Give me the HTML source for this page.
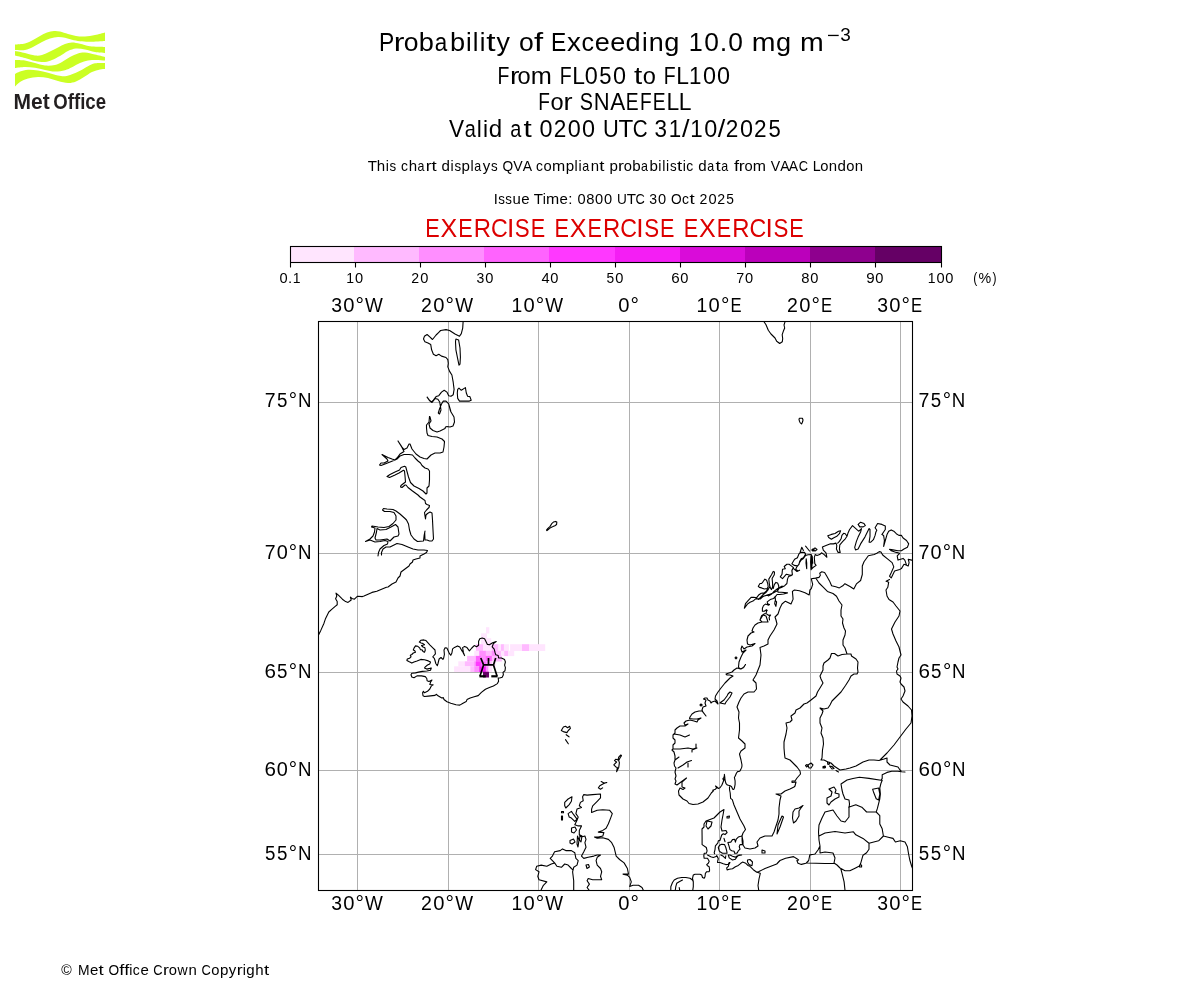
<!DOCTYPE html>
<html><head><meta charset="utf-8"><style>
html,body{margin:0;padding:0;background:#fff;width:1200px;height:1000px;overflow:hidden}
svg{display:block}
text{font-family:"Liberation Sans",sans-serif;}
svg{will-change:transform}
</style></head><body>
<svg width="1200" height="1000" viewBox="0 0 1200 1000">
<defs><clipPath id="mapclip"><rect x="318.5" y="321.5" width="594" height="569"/></clipPath></defs>
<rect width="1200" height="1000" fill="#fff"/>
<text transform="translate(378.93,50.75) scale(0.862,1)" font-size="26.50" fill="#000">P</text><text transform="translate(393.76,50.75) scale(1.238,1)" font-size="25.90" fill="#000">r</text><text transform="translate(403.72,50.75) scale(1.026,1)" font-size="25.90" fill="#000">o</text><text transform="translate(418.72,50.75) scale(1.051,1)" font-size="25.90" fill="#000">b</text><text transform="translate(434.64,50.75) scale(0.866,1)" font-size="25.90" fill="#000">a</text><text transform="translate(449.91,50.75) scale(1.051,1)" font-size="25.90" fill="#000">b</text><text transform="translate(465.93,50.75) scale(0.987,1)" font-size="25.90" fill="#000">i</text><text transform="translate(472.85,50.75) scale(0.987,1)" font-size="25.90" fill="#000">l</text><text transform="translate(479.82,50.75) scale(0.987,1)" font-size="25.90" fill="#000">i</text><text transform="translate(486.25,50.75) scale(1.293,1)" font-size="25.90" fill="#000">t</text><text transform="translate(496.58,50.75) scale(1.037,1)" font-size="25.90" fill="#000">y</text><text transform="translate(518.91,50.75) scale(1.026,1)" font-size="25.90" fill="#000">o</text><text transform="translate(534.04,50.75) scale(1.270,1)" font-size="25.90" fill="#000">f</text><text transform="translate(550.94,50.75) scale(0.862,1)" font-size="26.50" fill="#000">E</text><text transform="translate(566.88,50.75) scale(1.072,1)" font-size="25.90" fill="#000">x</text><text transform="translate(581.61,50.75) scale(0.967,1)" font-size="25.90" fill="#000">c</text><text transform="translate(594.83,50.75) scale(1.043,1)" font-size="25.90" fill="#000">e</text><text transform="translate(610.21,50.75) scale(1.043,1)" font-size="25.90" fill="#000">e</text><text transform="translate(625.59,50.75) scale(1.049,1)" font-size="25.90" fill="#000">d</text><text transform="translate(641.88,50.75) scale(0.987,1)" font-size="25.90" fill="#000">i</text><text transform="translate(648.64,50.75) scale(1.040,1)" font-size="25.90" fill="#000">n</text><text transform="translate(664.25,50.75) scale(1.049,1)" font-size="25.90" fill="#000">g</text><text transform="translate(688.64,50.75) scale(0.950,1)" font-size="26.50" fill="#000">1</text><text transform="translate(704.33,50.75) scale(0.995,1)" font-size="26.50" fill="#000">0</text><text transform="translate(719.83,50.75) scale(1.022,1)" font-size="26.50" fill="#000">.</text><text transform="translate(728.18,50.75) scale(0.995,1)" font-size="26.50" fill="#000">0</text><text transform="translate(751.81,50.75) scale(1.100,1)" font-size="25.90" fill="#000">m</text><text transform="translate(776.03,50.75) scale(1.049,1)" font-size="25.90" fill="#000">g</text><text transform="translate(799.98,50.75) scale(1.100,1)" font-size="25.90" fill="#000">m</text>
<rect x="828" y="34.8" width="10.7" height="1.3" fill="#000"/>
<text transform="translate(840.28,40.80) scale(1.0598,1)" font-size="17.88" fill="#000">3</text>
<text transform="translate(497.52,83.85) scale(0.826,1)" font-size="23.55" fill="#000">F</text><text transform="translate(509.92,83.85) scale(1.238,1)" font-size="23.02" fill="#000">r</text><text transform="translate(517.55,83.85) scale(1.026,1)" font-size="23.02" fill="#000">o</text><text transform="translate(530.76,83.85) scale(1.100,1)" font-size="23.02" fill="#000">m</text><text transform="translate(559.63,83.85) scale(0.826,1)" font-size="23.55" fill="#000">F</text><text transform="translate(572.22,83.85) scale(0.971,1)" font-size="23.55" fill="#000">L</text><text transform="translate(584.83,83.85) scale(0.995,1)" font-size="23.55" fill="#000">0</text><text transform="translate(599.26,83.85) scale(0.937,1)" font-size="23.55" fill="#000">5</text><text transform="translate(613.10,83.85) scale(0.995,1)" font-size="23.55" fill="#000">0</text><text transform="translate(633.91,83.85) scale(1.290,1)" font-size="23.02" fill="#000">t</text><text transform="translate(642.71,83.85) scale(1.026,1)" font-size="23.02" fill="#000">o</text><text transform="translate(663.63,83.85) scale(0.826,1)" font-size="23.55" fill="#000">F</text><text transform="translate(676.22,83.85) scale(0.971,1)" font-size="23.55" fill="#000">L</text><text transform="translate(689.02,83.85) scale(0.950,1)" font-size="23.55" fill="#000">1</text><text transform="translate(702.97,83.85) scale(0.995,1)" font-size="23.55" fill="#000">0</text><text transform="translate(717.11,83.85) scale(0.995,1)" font-size="23.55" fill="#000">0</text>
<text transform="translate(538.14,109.70) scale(0.810,1)" font-size="23.55" fill="#000">F</text><text transform="translate(550.53,109.70) scale(1.026,1)" font-size="23.02" fill="#000">o</text><text transform="translate(563.47,109.70) scale(1.183,1)" font-size="23.02" fill="#000">r</text><text transform="translate(579.86,109.70) scale(0.842,1)" font-size="23.55" fill="#000">S</text><text transform="translate(593.79,109.70) scale(0.932,1)" font-size="23.55" fill="#000">N</text><text transform="translate(610.14,109.70) scale(0.952,1)" font-size="23.55" fill="#000">A</text><text transform="translate(625.83,109.70) scale(0.817,1)" font-size="23.55" fill="#000">E</text><text transform="translate(639.88,109.70) scale(0.810,1)" font-size="23.55" fill="#000">F</text><text transform="translate(652.65,109.70) scale(0.817,1)" font-size="23.55" fill="#000">E</text><text transform="translate(666.39,109.70) scale(0.971,1)" font-size="23.55" fill="#000">L</text><text transform="translate(678.77,109.70) scale(0.971,1)" font-size="23.55" fill="#000">L</text>
<text transform="translate(449.11,136.70) scale(0.958,1)" font-size="23.55" fill="#000">V</text><text transform="translate(464.74,136.70) scale(0.866,1)" font-size="23.02" fill="#000">a</text><text transform="translate(476.70,136.70) scale(0.987,1)" font-size="23.02" fill="#000">l</text><text transform="translate(482.90,136.70) scale(0.987,1)" font-size="23.02" fill="#000">i</text><text transform="translate(488.69,136.70) scale(1.049,1)" font-size="23.02" fill="#000">d</text><text transform="translate(510.15,136.70) scale(0.866,1)" font-size="23.02" fill="#000">a</text><text transform="translate(523.40,136.70) scale(1.293,1)" font-size="23.02" fill="#000">t</text><text transform="translate(539.57,136.70) scale(0.995,1)" font-size="23.55" fill="#000">0</text><text transform="translate(553.67,136.70) scale(0.960,1)" font-size="23.55" fill="#000">2</text><text transform="translate(567.85,136.70) scale(0.995,1)" font-size="23.55" fill="#000">0</text><text transform="translate(581.98,136.70) scale(0.995,1)" font-size="23.55" fill="#000">0</text><text transform="translate(602.88,136.70) scale(0.928,1)" font-size="23.55" fill="#000">U</text><text transform="translate(618.38,136.70) scale(1.028,1)" font-size="23.55" fill="#000">T</text><text transform="translate(632.70,136.70) scale(0.875,1)" font-size="23.55" fill="#000">C</text><text transform="translate(654.60,136.70) scale(0.955,1)" font-size="23.55" fill="#000">3</text><text transform="translate(668.63,136.70) scale(0.950,1)" font-size="23.55" fill="#000">1</text><text transform="translate(682.04,136.70) scale(1.144,1)" font-size="23.55" fill="#000">/</text><text transform="translate(690.25,136.70) scale(0.950,1)" font-size="23.55" fill="#000">1</text><text transform="translate(704.20,136.70) scale(0.995,1)" font-size="23.55" fill="#000">0</text><text transform="translate(717.80,136.70) scale(1.144,1)" font-size="23.55" fill="#000">/</text><text transform="translate(725.78,136.70) scale(0.960,1)" font-size="23.55" fill="#000">2</text><text transform="translate(739.96,136.70) scale(0.995,1)" font-size="23.55" fill="#000">0</text><text transform="translate(754.05,136.70) scale(0.960,1)" font-size="23.55" fill="#000">2</text><text transform="translate(768.53,136.70) scale(0.937,1)" font-size="23.55" fill="#000">5</text>
<text transform="translate(367.67,171.20) scale(1.028,1)" font-size="14.72" fill="#000">T</text><text transform="translate(376.69,171.20) scale(1.047,1)" font-size="14.39" fill="#000">h</text><text transform="translate(385.66,171.20) scale(0.987,1)" font-size="14.39" fill="#000">i</text><text transform="translate(389.54,171.20) scale(0.925,1)" font-size="14.39" fill="#000">s</text><text transform="translate(400.98,171.20) scale(0.967,1)" font-size="14.39" fill="#000">c</text><text transform="translate(408.65,171.20) scale(1.047,1)" font-size="14.39" fill="#000">h</text><text transform="translate(417.55,171.20) scale(0.866,1)" font-size="14.39" fill="#000">a</text><text transform="translate(425.83,171.20) scale(1.238,1)" font-size="14.39" fill="#000">r</text><text transform="translate(431.54,171.20) scale(1.293,1)" font-size="14.39" fill="#000">t</text><text transform="translate(441.45,171.20) scale(1.049,1)" font-size="14.39" fill="#000">d</text><text transform="translate(450.51,171.20) scale(0.987,1)" font-size="14.39" fill="#000">i</text><text transform="translate(454.39,171.20) scale(0.925,1)" font-size="14.39" fill="#000">s</text><text transform="translate(461.52,171.20) scale(1.051,1)" font-size="14.39" fill="#000">p</text><text transform="translate(470.41,171.20) scale(0.987,1)" font-size="14.39" fill="#000">l</text><text transform="translate(474.22,171.20) scale(0.866,1)" font-size="14.39" fill="#000">a</text><text transform="translate(482.80,171.20) scale(1.037,1)" font-size="14.39" fill="#000">y</text><text transform="translate(491.03,171.20) scale(0.925,1)" font-size="14.39" fill="#000">s</text><text transform="translate(502.43,171.20) scale(0.932,1)" font-size="14.72" fill="#000">Q</text><text transform="translate(513.27,171.20) scale(0.958,1)" font-size="14.72" fill="#000">V</text><text transform="translate(522.80,171.20) scale(0.952,1)" font-size="14.72" fill="#000">A</text><text transform="translate(535.94,171.20) scale(0.967,1)" font-size="14.39" fill="#000">c</text><text transform="translate(543.54,171.20) scale(1.026,1)" font-size="14.39" fill="#000">o</text><text transform="translate(552.10,171.20) scale(1.100,1)" font-size="14.39" fill="#000">m</text><text transform="translate(565.71,171.20) scale(1.051,1)" font-size="14.39" fill="#000">p</text><text transform="translate(574.60,171.20) scale(0.987,1)" font-size="14.39" fill="#000">l</text><text transform="translate(578.47,171.20) scale(0.987,1)" font-size="14.39" fill="#000">i</text><text transform="translate(582.27,171.20) scale(0.866,1)" font-size="14.39" fill="#000">a</text><text transform="translate(590.73,171.20) scale(1.040,1)" font-size="14.39" fill="#000">n</text><text transform="translate(599.36,171.20) scale(1.293,1)" font-size="14.39" fill="#000">t</text><text transform="translate(609.42,171.20) scale(1.051,1)" font-size="14.39" fill="#000">p</text><text transform="translate(618.03,171.20) scale(1.238,1)" font-size="14.39" fill="#000">r</text><text transform="translate(623.81,171.20) scale(1.026,1)" font-size="14.39" fill="#000">o</text><text transform="translate(632.14,171.20) scale(1.051,1)" font-size="14.39" fill="#000">b</text><text transform="translate(640.98,171.20) scale(0.866,1)" font-size="14.39" fill="#000">a</text><text transform="translate(649.47,171.20) scale(1.051,1)" font-size="14.39" fill="#000">b</text><text transform="translate(658.37,171.20) scale(0.987,1)" font-size="14.39" fill="#000">i</text><text transform="translate(662.22,171.20) scale(0.987,1)" font-size="14.39" fill="#000">l</text><text transform="translate(666.09,171.20) scale(0.987,1)" font-size="14.39" fill="#000">i</text><text transform="translate(669.97,171.20) scale(0.925,1)" font-size="14.39" fill="#000">s</text><text transform="translate(676.90,171.20) scale(1.293,1)" font-size="14.39" fill="#000">t</text><text transform="translate(682.63,171.20) scale(0.987,1)" font-size="14.39" fill="#000">i</text><text transform="translate(686.30,171.20) scale(0.967,1)" font-size="14.39" fill="#000">c</text><text transform="translate(698.30,171.20) scale(1.049,1)" font-size="14.39" fill="#000">d</text><text transform="translate(707.30,171.20) scale(0.866,1)" font-size="14.39" fill="#000">a</text><text transform="translate(715.58,171.20) scale(1.293,1)" font-size="14.39" fill="#000">t</text><text transform="translate(721.26,171.20) scale(0.866,1)" font-size="14.39" fill="#000">a</text><text transform="translate(733.93,171.20) scale(1.270,1)" font-size="14.39" fill="#000">f</text><text transform="translate(738.84,171.20) scale(1.238,1)" font-size="14.39" fill="#000">r</text><text transform="translate(744.62,171.20) scale(1.026,1)" font-size="14.39" fill="#000">o</text><text transform="translate(752.87,171.20) scale(1.100,1)" font-size="14.39" fill="#000">m</text><text transform="translate(770.66,171.20) scale(0.958,1)" font-size="14.72" fill="#000">V</text><text transform="translate(780.19,171.20) scale(0.952,1)" font-size="14.72" fill="#000">A</text><text transform="translate(788.80,171.20) scale(0.952,1)" font-size="14.72" fill="#000">A</text><text transform="translate(798.75,171.20) scale(0.875,1)" font-size="14.72" fill="#000">C</text><text transform="translate(812.68,171.20) scale(0.971,1)" font-size="14.72" fill="#000">L</text><text transform="translate(820.37,171.20) scale(1.026,1)" font-size="14.39" fill="#000">o</text><text transform="translate(828.74,171.20) scale(1.040,1)" font-size="14.39" fill="#000">n</text><text transform="translate(837.41,171.20) scale(1.049,1)" font-size="14.39" fill="#000">d</text><text transform="translate(846.24,171.20) scale(1.026,1)" font-size="14.39" fill="#000">o</text><text transform="translate(854.86,171.20) scale(1.040,1)" font-size="14.39" fill="#000">n</text>
<text transform="translate(493.65,204.20) scale(0.994,1)" font-size="14.72" fill="#000">I</text><text transform="translate(498.13,204.20) scale(0.925,1)" font-size="14.39" fill="#000">s</text><text transform="translate(505.36,204.20) scale(0.925,1)" font-size="14.39" fill="#000">s</text><text transform="translate(512.42,204.20) scale(1.040,1)" font-size="14.39" fill="#000">u</text><text transform="translate(521.15,204.20) scale(1.043,1)" font-size="14.39" fill="#000">e</text><text transform="translate(533.64,204.20) scale(1.028,1)" font-size="14.72" fill="#000">T</text><text transform="translate(542.83,204.20) scale(0.987,1)" font-size="14.39" fill="#000">i</text><text transform="translate(546.09,204.20) scale(1.100,1)" font-size="14.39" fill="#000">m</text><text transform="translate(559.55,204.20) scale(1.043,1)" font-size="14.39" fill="#000">e</text><text transform="translate(568.22,204.20) scale(1.022,1)" font-size="14.72" fill="#000">:</text><text transform="translate(577.39,204.20) scale(0.995,1)" font-size="14.72" fill="#000">0</text><text transform="translate(586.19,204.20) scale(1.006,1)" font-size="14.72" fill="#000">8</text><text transform="translate(595.07,204.20) scale(0.995,1)" font-size="14.72" fill="#000">0</text><text transform="translate(603.90,204.20) scale(0.995,1)" font-size="14.72" fill="#000">0</text><text transform="translate(616.97,204.20) scale(0.928,1)" font-size="14.72" fill="#000">U</text><text transform="translate(626.66,204.20) scale(1.028,1)" font-size="14.72" fill="#000">T</text><text transform="translate(635.61,204.20) scale(0.875,1)" font-size="14.72" fill="#000">C</text><text transform="translate(649.30,204.20) scale(0.955,1)" font-size="14.72" fill="#000">3</text><text transform="translate(657.95,204.20) scale(0.995,1)" font-size="14.72" fill="#000">0</text><text transform="translate(671.00,204.20) scale(0.932,1)" font-size="14.72" fill="#000">O</text><text transform="translate(681.98,204.20) scale(0.967,1)" font-size="14.39" fill="#000">c</text><text transform="translate(689.52,204.20) scale(1.293,1)" font-size="14.39" fill="#000">t</text><text transform="translate(699.60,204.20) scale(0.960,1)" font-size="14.72" fill="#000">2</text><text transform="translate(708.47,204.20) scale(0.995,1)" font-size="14.72" fill="#000">0</text><text transform="translate(717.28,204.20) scale(0.960,1)" font-size="14.72" fill="#000">2</text><text transform="translate(726.33,204.20) scale(0.937,1)" font-size="14.72" fill="#000">5</text>
<text transform="translate(425.23,237.00) scale(0.817,1)" font-size="26.50" fill="#dc0000">E</text><text transform="translate(440.52,237.00) scale(0.945,1)" font-size="26.50" fill="#dc0000">X</text><text transform="translate(458.15,237.00) scale(0.817,1)" font-size="26.50" fill="#dc0000">E</text><text transform="translate(473.76,237.00) scale(0.902,1)" font-size="26.50" fill="#dc0000">R</text><text transform="translate(490.88,237.00) scale(0.875,1)" font-size="26.50" fill="#dc0000">C</text><text transform="translate(506.88,237.00) scale(0.994,1)" font-size="26.50" fill="#dc0000">I</text><text transform="translate(514.84,237.00) scale(0.842,1)" font-size="26.50" fill="#dc0000">S</text><text transform="translate(530.77,237.00) scale(0.817,1)" font-size="26.50" fill="#dc0000">E</text><text transform="translate(554.51,237.00) scale(0.817,1)" font-size="26.50" fill="#dc0000">E</text><text transform="translate(569.81,237.00) scale(0.945,1)" font-size="26.50" fill="#dc0000">X</text><text transform="translate(587.43,237.00) scale(0.817,1)" font-size="26.50" fill="#dc0000">E</text><text transform="translate(603.04,237.00) scale(0.902,1)" font-size="26.50" fill="#dc0000">R</text><text transform="translate(620.17,237.00) scale(0.875,1)" font-size="26.50" fill="#dc0000">C</text><text transform="translate(636.16,237.00) scale(0.994,1)" font-size="26.50" fill="#dc0000">I</text><text transform="translate(644.13,237.00) scale(0.842,1)" font-size="26.50" fill="#dc0000">S</text><text transform="translate(660.05,237.00) scale(0.817,1)" font-size="26.50" fill="#dc0000">E</text><text transform="translate(683.80,237.00) scale(0.817,1)" font-size="26.50" fill="#dc0000">E</text><text transform="translate(699.09,237.00) scale(0.945,1)" font-size="26.50" fill="#dc0000">X</text><text transform="translate(716.72,237.00) scale(0.817,1)" font-size="26.50" fill="#dc0000">E</text><text transform="translate(732.33,237.00) scale(0.902,1)" font-size="26.50" fill="#dc0000">R</text><text transform="translate(749.45,237.00) scale(0.875,1)" font-size="26.50" fill="#dc0000">C</text><text transform="translate(765.45,237.00) scale(0.994,1)" font-size="26.50" fill="#dc0000">I</text><text transform="translate(773.42,237.00) scale(0.842,1)" font-size="26.50" fill="#dc0000">S</text><text transform="translate(789.34,237.00) scale(0.817,1)" font-size="26.50" fill="#dc0000">E</text>
<text transform="translate(61.29,975.10) scale(0.966,1)" font-size="14.72" fill="#000">©</text><text transform="translate(78.11,975.10) scale(0.942,1)" font-size="14.72" fill="#000">M</text><text transform="translate(90.01,975.10) scale(1.043,1)" font-size="14.39" fill="#000">e</text><text transform="translate(98.50,975.10) scale(1.293,1)" font-size="14.39" fill="#000">t</text><text transform="translate(108.41,975.10) scale(0.932,1)" font-size="14.72" fill="#000">O</text><text transform="translate(119.26,975.10) scale(1.270,1)" font-size="14.39" fill="#000">f</text><text transform="translate(124.15,975.10) scale(1.270,1)" font-size="14.39" fill="#000">f</text><text transform="translate(129.15,975.10) scale(0.987,1)" font-size="14.39" fill="#000">i</text><text transform="translate(132.82,975.10) scale(0.967,1)" font-size="14.39" fill="#000">c</text><text transform="translate(140.41,975.10) scale(1.043,1)" font-size="14.39" fill="#000">e</text><text transform="translate(153.37,975.10) scale(0.875,1)" font-size="14.72" fill="#000">C</text><text transform="translate(163.01,975.10) scale(1.238,1)" font-size="14.39" fill="#000">r</text><text transform="translate(168.79,975.10) scale(1.026,1)" font-size="14.39" fill="#000">o</text><text transform="translate(177.43,975.10) scale(0.975,1)" font-size="14.39" fill="#000">w</text><text transform="translate(188.46,975.10) scale(1.040,1)" font-size="14.39" fill="#000">n</text><text transform="translate(201.55,975.10) scale(0.875,1)" font-size="14.72" fill="#000">C</text><text transform="translate(211.26,975.10) scale(1.026,1)" font-size="14.39" fill="#000">o</text><text transform="translate(219.90,975.10) scale(1.051,1)" font-size="14.39" fill="#000">p</text><text transform="translate(228.81,975.10) scale(1.037,1)" font-size="14.39" fill="#000">y</text><text transform="translate(236.73,975.10) scale(1.238,1)" font-size="14.39" fill="#000">r</text><text transform="translate(242.73,975.10) scale(0.987,1)" font-size="14.39" fill="#000">i</text><text transform="translate(246.35,975.10) scale(1.049,1)" font-size="14.39" fill="#000">g</text><text transform="translate(255.25,975.10) scale(1.047,1)" font-size="14.39" fill="#000">h</text><text transform="translate(263.93,975.10) scale(1.293,1)" font-size="14.39" fill="#000">t</text>
<rect x="290.50" y="246.5" width="63.80" height="16" fill="#ffe5fe"/>
<rect x="354.00" y="246.5" width="65.30" height="16" fill="#ffbaff"/>
<rect x="419.00" y="246.5" width="65.30" height="16" fill="#ff8eff"/>
<rect x="484.00" y="246.5" width="65.30" height="16" fill="#ff63fe"/>
<rect x="549.00" y="246.5" width="66.30" height="16" fill="#ff38ff"/>
<rect x="615.00" y="246.5" width="65.30" height="16" fill="#f41ef4"/>
<rect x="680.00" y="246.5" width="65.30" height="16" fill="#d90cd9"/>
<rect x="745.00" y="246.5" width="65.30" height="16" fill="#bb00bb"/>
<rect x="810.00" y="246.5" width="65.30" height="16" fill="#8e008e"/>
<rect x="875.00" y="246.5" width="66.80" height="16" fill="#650065"/>
<rect x="290.5" y="246.5" width="651" height="16" fill="none" stroke="#000" stroke-width="1.1"/>
<line x1="290.5" y1="262.5" x2="290.5" y2="267.5" stroke="#000" stroke-width="1.1"/>
<text transform="translate(279.38,282.90) scale(0.995,1)" font-size="14.72" fill="#000">0</text><text transform="translate(287.99,282.90) scale(1.022,1)" font-size="14.72" fill="#000">.</text><text transform="translate(292.75,282.90) scale(0.950,1)" font-size="14.72" fill="#000">1</text>
<line x1="355.5" y1="262.5" x2="355.5" y2="267.5" stroke="#000" stroke-width="1.1"/>
<text transform="translate(346.22,282.90) scale(0.950,1)" font-size="14.72" fill="#000">1</text><text transform="translate(354.94,282.90) scale(0.995,1)" font-size="14.72" fill="#000">0</text>
<line x1="420.5" y1="262.5" x2="420.5" y2="267.5" stroke="#000" stroke-width="1.1"/>
<text transform="translate(411.32,282.90) scale(0.960,1)" font-size="14.72" fill="#000">2</text><text transform="translate(420.19,282.90) scale(0.995,1)" font-size="14.72" fill="#000">0</text>
<line x1="485.5" y1="262.5" x2="485.5" y2="267.5" stroke="#000" stroke-width="1.1"/>
<text transform="translate(476.52,282.90) scale(0.955,1)" font-size="14.72" fill="#000">3</text><text transform="translate(485.17,282.90) scale(0.995,1)" font-size="14.72" fill="#000">0</text>
<line x1="550.5" y1="262.5" x2="550.5" y2="267.5" stroke="#000" stroke-width="1.1"/>
<text transform="translate(541.54,282.90) scale(0.996,1)" font-size="14.72" fill="#000">4</text><text transform="translate(550.36,282.90) scale(0.995,1)" font-size="14.72" fill="#000">0</text>
<line x1="615.5" y1="262.5" x2="615.5" y2="267.5" stroke="#000" stroke-width="1.1"/>
<text transform="translate(606.51,282.90) scale(0.937,1)" font-size="14.72" fill="#000">5</text><text transform="translate(615.16,282.90) scale(0.995,1)" font-size="14.72" fill="#000">0</text>
<line x1="680.5" y1="262.5" x2="680.5" y2="267.5" stroke="#000" stroke-width="1.1"/>
<text transform="translate(671.25,282.90) scale(1.029,1)" font-size="14.72" fill="#000">6</text><text transform="translate(680.21,282.90) scale(0.995,1)" font-size="14.72" fill="#000">0</text>
<line x1="745.5" y1="262.5" x2="745.5" y2="267.5" stroke="#000" stroke-width="1.1"/>
<text transform="translate(736.36,282.90) scale(0.972,1)" font-size="14.72" fill="#000">7</text><text transform="translate(745.12,282.90) scale(0.995,1)" font-size="14.72" fill="#000">0</text>
<line x1="810.5" y1="262.5" x2="810.5" y2="267.5" stroke="#000" stroke-width="1.1"/>
<text transform="translate(801.35,282.90) scale(1.006,1)" font-size="14.72" fill="#000">8</text><text transform="translate(810.23,282.90) scale(0.995,1)" font-size="14.72" fill="#000">0</text>
<line x1="875.5" y1="262.5" x2="875.5" y2="267.5" stroke="#000" stroke-width="1.1"/>
<text transform="translate(866.26,282.90) scale(1.027,1)" font-size="14.72" fill="#000">9</text><text transform="translate(875.26,282.90) scale(0.995,1)" font-size="14.72" fill="#000">0</text>
<line x1="941.5" y1="262.5" x2="941.5" y2="267.5" stroke="#000" stroke-width="1.1"/>
<text transform="translate(927.80,282.90) scale(0.950,1)" font-size="14.72" fill="#000">1</text><text transform="translate(936.52,282.90) scale(0.995,1)" font-size="14.72" fill="#000">0</text><text transform="translate(945.36,282.90) scale(0.995,1)" font-size="14.72" fill="#000">0</text>
<text transform="translate(973.20,282.90) scale(0.823,1)" font-size="14.72" fill="#000">(</text><text transform="translate(978.50,282.90) scale(0.969,1)" font-size="14.72" fill="#000">%</text><text transform="translate(992.44,282.90) scale(0.823,1)" font-size="14.72" fill="#000">)</text>
<rect x="357" y="321" width="1" height="569" fill="#b0b0b0"/>
<rect x="448" y="321" width="1" height="569" fill="#b0b0b0"/>
<rect x="538" y="321" width="1" height="569" fill="#b0b0b0"/>
<rect x="629" y="321" width="1" height="569" fill="#b0b0b0"/>
<rect x="719" y="321" width="1" height="569" fill="#b0b0b0"/>
<rect x="810" y="321" width="1" height="569" fill="#b0b0b0"/>
<rect x="900" y="321" width="1" height="569" fill="#b0b0b0"/>
<rect x="318" y="402" width="594" height="1" fill="#b0b0b0"/>
<rect x="318" y="553" width="594" height="1" fill="#b0b0b0"/>
<rect x="318" y="672" width="594" height="1" fill="#b0b0b0"/>
<rect x="318" y="770" width="594" height="1" fill="#b0b0b0"/>
<rect x="318" y="854" width="594" height="1" fill="#b0b0b0"/>
<g clip-path="url(#mapclip)"><rect x="486.0" y="627.2" width="3.3" height="6.3" fill="#ffe5fe"/><rect x="481.1" y="633.3" width="5.9" height="5.1" fill="#ffe5fe"/><rect x="481.0" y="638.2" width="10.2" height="6.2" fill="#ffe5fe"/><rect x="475.9" y="644.2" width="7.3" height="6.8" fill="#ffbaff"/><rect x="483.0" y="644.2" width="9.0" height="6.8" fill="#ffe5fe"/><rect x="491.8" y="644.2" width="6.8" height="6.8" fill="#ffbaff"/><rect x="498.4" y="644.2" width="2.8" height="6.8" fill="#ffe5fe"/><rect x="501.0" y="644.2" width="3.1" height="6.8" fill="#ffbaff"/><rect x="503.9" y="644.2" width="5.0" height="6.8" fill="#ffe5fe"/><rect x="510.1" y="644.2" width="12.1" height="6.8" fill="#ffe5fe"/><rect x="522.0" y="644.2" width="7.3" height="6.8" fill="#ffbaff"/><rect x="529.1" y="644.2" width="16.1" height="6.8" fill="#ffe5fe"/><rect x="474.2" y="650.8" width="5.2" height="5.3" fill="#ffe5fe"/><rect x="479.2" y="650.8" width="6.8" height="5.3" fill="#ff8eff"/><rect x="485.8" y="650.8" width="6.2" height="5.3" fill="#ffbaff"/><rect x="491.8" y="650.8" width="4.1" height="5.3" fill="#ff8eff"/><rect x="495.7" y="650.8" width="5.5" height="5.3" fill="#ffbaff"/><rect x="501.0" y="650.8" width="3.4" height="5.3" fill="#ffe5fe"/><rect x="504.2" y="650.8" width="4.1" height="5.3" fill="#ffbaff"/><rect x="508.1" y="650.8" width="6.1" height="5.3" fill="#ffe5fe"/><rect x="467.1" y="655.9" width="9.0" height="5.6" fill="#ffbaff"/><rect x="475.9" y="655.9" width="5.1" height="5.6" fill="#ff63fe"/><rect x="480.8" y="655.9" width="5.2" height="5.6" fill="#ff8eff"/><rect x="485.8" y="655.9" width="6.2" height="5.6" fill="#ff63fe"/><rect x="491.8" y="655.9" width="10.1" height="5.6" fill="#ffbaff"/><rect x="458.3" y="661.3" width="6.8" height="5.2" fill="#ffe5fe"/><rect x="464.9" y="661.3" width="9.5" height="5.2" fill="#ffbaff"/><rect x="474.2" y="661.3" width="1.9" height="5.2" fill="#ff8eff"/><rect x="475.9" y="661.3" width="5.1" height="5.2" fill="#ff38ff"/><rect x="480.8" y="661.3" width="5.2" height="5.2" fill="#ff63fe"/><rect x="485.8" y="661.3" width="2.9" height="5.2" fill="#ff8eff"/><rect x="488.5" y="661.3" width="3.5" height="5.2" fill="#ffbaff"/><rect x="491.8" y="661.3" width="4.1" height="5.2" fill="#ffe5fe"/><rect x="454.1" y="666.3" width="16.4" height="5.7" fill="#ffe5fe"/><rect x="470.3" y="666.3" width="4.1" height="5.7" fill="#ffbaff"/><rect x="474.2" y="666.3" width="5.2" height="5.7" fill="#ff8eff"/><rect x="479.2" y="666.3" width="6.8" height="5.7" fill="#f41ef4"/><rect x="485.8" y="666.3" width="2.9" height="5.7" fill="#ff8eff"/><rect x="488.5" y="666.3" width="3.5" height="5.7" fill="#ffe5fe"/><rect x="483.0" y="671.8" width="6.0" height="5.7" fill="#650065"/><path d="M463.1,321.9 L462.7,328.2 L461.3,333.6 L459.5,336.3 L455.0,334.0 L449.6,330.5 L446.0,329.6 L440.6,330.5 L438.8,332.3 L436.1,335.0 L432.5,339.5 L429.8,336.8 L427.1,334.5 L424.4,336.3 L423.5,339.0 L424.9,341.7 L428.0,343.0 L430.7,344.4 L431.6,349.8 L433.4,354.3 L436.1,355.7 L438.8,354.3 L441.5,356.1 L446.0,357.5 L447.8,359.7 L448.3,363.3 L447.8,366.9 L449.6,371.4 L451.9,375.0 L453.2,382.2 L454.1,389.4 L453.2,394.8 L451.0,396.2 L448.7,395.7 L446.9,392.1 L444.2,390.3 L441.5,392.1 L438.8,395.7 L436.1,396.6 L433.4,400.2 L431.6,402.0 L429.4,400.2 L427.1,397.1 L429.4,400.5 L432.0,402.5 L435.2,398.4 L437.9,399.3 L439.7,402.0 L440.6,407.4 L441.0,410.0 L439.5,414.0 L438.3,413.0 L439.5,409.0 L441.5,404.0 L443.3,401.1 L446.0,401.1 L448.7,403.8 L451.0,412.0 L454.0,417.0 L454.5,422.0 L453.0,426.0 L450.0,427.0 L447.0,426.5 L445.5,427.0 L445.0,428.5 L440.0,431.0 L437.0,432.0 L433.0,430.5 L430.0,428.0 L429.0,424.0 L431.0,421.0 L430.0,417.0 L429.5,416.5 L429.0,422.0 L426.5,425.0 L426.5,428.0 L427.0,433.0 L428.0,435.5 L432.0,436.5 L437.0,437.0 L442.0,439.0 L444.5,441.5 L444.0,447.0 L443.0,452.0 L440.0,453.0 L435.0,453.0 L431.0,455.0 L427.0,459.0 L424.0,458.5 L420.0,457.0 L416.0,454.0 L412.0,449.0 L410.0,444.0 L409.0,444.0 L407.0,448.0 L404.0,449.5 L402.0,447.0 L398.0,441.0 L402.0,447.5 L404.0,451.5 L400.0,454.0 L397.0,458.0 L395.0,460.0 L392.0,459.0 L388.0,457.5 L382.0,454.5 L387.0,459.0 L388.0,461.0 L384.0,463.0 L381.0,463.0 L379.5,465.0 L381.0,465.5 L385.0,464.0 L390.0,462.0 L395.0,460.0 L397.0,459.0 L400.0,456.0 L404.0,454.5 L409.0,454.5 L412.5,455.0 L415.0,458.0 L418.0,461.0 L420.5,463.0 L422.0,465.5 L425.0,468.0 L428.0,469.0 L429.5,471.0 L429.5,480.0 L429.0,486.0 L427.0,488.0 L427.0,493.0 L426.0,494.0 L423.0,491.0 L419.0,488.5 L414.0,486.0 L410.5,482.5 L408.5,477.0 L407.0,471.5 L405.8,467.0 L404.5,466.3 L401.0,467.5 L399.5,470.0 L395.0,472.0 L390.0,474.5 L387.0,476.5 L389.5,477.5 L395.0,475.0 L399.0,473.0 L403.5,470.3 L404.5,471.0 L405.0,476.0 L405.5,482.0 L403.5,483.5 L401.0,485.5 L400.5,487.0 L402.0,487.5 L405.0,485.0 L406.0,485.0 L408.0,487.5 L412.5,491.0 L418.0,495.0 L420.0,497.0 L423.5,499.5 L425.0,500.5 L425.5,503.5 L427.0,504.5 L429.5,505.5 L429.0,507.5 L426.5,510.0 L424.5,512.5 L425.0,516.0 L425.5,519.0 L426.0,515.0 L427.5,513.5 L430.0,512.0 L432.0,513.0 L432.5,520.0 L433.0,530.0 L433.5,539.0 L432.0,541.0 L429.5,541.0 L427.0,540.0 L425.0,540.0 L424.7,533.0 L425.0,531.0 L424.2,535.0 L423.5,541.0 L417.5,541.5 L414.0,539.0 L411.0,535.0 L409.5,530.0 L408.5,524.0 L406.5,520.0 L405.0,518.5 L400.0,514.0 L396.0,511.0 L393.0,509.5 L387.0,509.0 L383.5,508.5 L382.5,510.0 L384.5,511.5 L390.0,511.5 L394.0,512.5 L396.0,516.0 L396.0,520.0 L393.0,523.5 L389.0,526.5 L384.0,527.5 L378.0,527.0 L372.0,526.0 L371.5,527.0 L375.0,528.0 L374.5,532.0 L373.0,536.0 L370.0,539.0 L365.5,541.5 L370.0,540.0 L375.0,542.0 L380.0,541.5 L385.0,540.5 L388.0,541.5 L387.5,544.0 L384.0,545.5 L380.0,549.0 L378.5,552.5 L378.0,556.0 M455.9,339.0 L458.6,339.9 L460.0,348.0 L460.4,357.0 L460.0,364.2 L459.0,365.1 L457.7,358.8 L455.9,349.8 L455.5,341.7Z M457.7,389.4 L459.0,388.1 L461.3,390.3 L465.4,387.6 L466.3,393.0 L467.6,396.2 L469.9,396.6 L471.2,400.2 L469.4,401.1 L459.5,401.1 L457.7,398.4 L457.3,393.0Z M443.3,401.1 L446.0,401.1 L448.7,403.8 L450.5,411.0 M377.0,528.5 L380.0,530.0 L386.0,529.5 L391.0,527.0 L395.5,524.5 L398.0,527.0 L399.0,534.0 L398.0,536.0 L394.0,537.0 L392.0,539.0 L390.0,541.0 L387.0,539.0 L380.0,540.0 L376.0,540.0 L375.0,538.0 L376.5,532.0Z M381.5,555.0 L381.5,552.5 L383.0,549.0 L386.0,547.0 L390.0,547.0 L397.0,543.5 L402.0,544.5 L408.0,547.0 L413.0,549.0 L418.0,550.0 L424.0,550.0 L427.5,550.5 L426.5,552.5 L424.0,554.0 L420.0,556.0 L420.0,558.0 L416.0,559.0 L413.0,560.0 L412.5,562.0 L410.0,564.0 L409.0,566.0 L405.0,569.0 L401.0,572.0 L400.0,576.0 L398.0,578.0 L396.0,582.0 L392.0,584.0 L388.0,587.0 L386.4,587.2 L376.8,591.2 L372.0,592.4 L364.0,596.0 L362.4,596.6 L357.6,596.2 L356.0,597.6 L354.4,599.2 L352.0,598.4 L350.4,597.2 L351.2,600.0 L348.0,602.4 L345.6,601.6 L342.4,599.2 L338.4,595.2 L336.0,593.2 L336.8,596.0 L335.6,598.8 L337.2,601.6 L337.2,604.8 L335.2,606.4 L332.0,609.2 L328.8,612.0 L325.6,618.4 L324.0,623.2 L320.8,630.4 L318.4,635.2 L316.0,640.0 M546.5,530.2 L547.9,528.3 L550.1,526.4 L552.0,523.3 L553.4,522.1 L555.6,521.4 L556.8,522.1 L556.6,524.5 L554.9,525.7 L553.0,526.6 L551.0,527.4 L549.4,528.6 L547.0,530.7Z M764.0,321.7 L766.0,324.7 L768.3,330.3 L771.0,334.0 L775.0,338.0 L776.7,341.3 L779.7,343.5 L782.3,341.7 L782.7,338.7 L782.2,334.7 L783.3,331.3 L784.7,328.0 L784.0,325.0 L785.0,321.8 M799.3,418.3 L802.4,418.3 L803.0,420.0 L802.5,422.1 L801.6,423.9 L800.3,422.8 L799.5,421.4 L799.0,419.4Z M462.0,651.1 L459.8,647.0 L457.5,645.9 L454.5,647.4 L452.6,648.9 L451.9,653.0 L450.8,655.3 L449.3,653.4 L447.8,650.0 L447.0,648.1 L445.1,647.8 L444.0,650.0 L444.4,654.5 L443.6,658.3 L442.9,659.4 L441.0,657.5 L439.1,659.0 L438.0,663.5 L437.3,665.8 L435.8,663.5 L435.0,660.5 L434.3,658.3 L432.8,656.8 L433.5,656.0 L435.4,653.8 L435.0,650.0 L432.8,647.8 L429.8,644.8 L426.0,640.6 L423.8,639.9 L420.8,640.3 L419.3,642.1 L421.1,642.9 L423.0,643.6 L424.5,644.8 L421.5,645.5 L423.0,647.0 L424.9,647.8 L425.3,650.0 L424.5,652.3 L423.0,651.5 L422.3,650.0 L420.4,649.6 L419.6,647.8 L417.8,646.3 L415.5,645.9 L414.0,648.1 L413.3,650.0 L414.8,650.8 L415.5,652.3 L413.3,653.0 L411.8,654.5 L410.3,655.3 L411.0,656.8 L409.5,658.3 L407.3,659.0 L406.9,660.5 L408.8,661.6 L411.8,663.1 L414.0,662.0 L417.0,660.9 L420.8,659.4 L424.5,659.8 L428.3,660.9 L430.5,662.0 L429.8,663.9 L427.5,665.0 L425.3,666.9 L424.5,668.0 L426.8,669.1 L429.8,668.4 L431.3,668.0 L430.5,670.3 L426.8,671.0 L422.3,671.4 L418.5,672.1 L415.5,672.9 L411.8,673.3 L411.0,674.8 L411.8,677.0 L414.0,677.8 L417.0,675.9 L421.5,675.9 L425.3,676.6 L426.8,678.5 L427.1,680.8 L429.0,681.5 L432.0,680.0 L430.5,682.3 L429.8,684.5 L433.1,684.9 L431.3,686.0 L429.8,689.0 L427.5,691.3 L424.5,692.8 L423.4,691.3 L422.6,692.8 L423.0,695.8 L424.5,696.5 L428.3,696.1 L435.0,695.4 L436.5,694.3 L438.0,695.8 L441.8,698.0 L443.3,697.6 L444.0,699.5 L447.0,701.8 L450.8,703.3 L456.0,704.8 L459.8,705.1 L463.0,703.2 L466.2,701.6 L467.0,699.6 L470.2,698.0 L474.2,696.8 L478.2,695.6 L481.4,692.4 L485.4,689.2 L489.4,687.6 L493.4,686.0 L497.4,683.6 L498.6,681.2 L498.2,678.0 L499.8,678.0 L502.2,677.2 L503.4,674.8 L503.0,672.4 L505.0,670.8 L505.4,667.6 L504.6,665.2 L505.4,662.0 L504.6,659.6 L501.4,658.0 L498.6,658.0 L498.2,655.6 L495.8,654.8 L495.0,652.4 L494.2,649.2 L492.2,646.8 L493.4,643.6 L496.2,641.6 L492.6,642.8 L489.4,644.8 L487.4,644.4 L486.2,642.0 L484.6,638.8 L482.2,638.0 L479.8,638.8 L478.6,641.2 L478.6,645.2 L476.6,646.8 L474.2,645.6 L471.8,648.0 L469.4,650.8 L467.0,647.6 L464.6,646.4 L462.6,647.6 L463.4,652.4 L464.6,655.6 L463.8,654.0 L462.2,650.8 L462.0,651.1Z M827.8,535.7 L831.4,534.4 L835.0,533.5 L838.5,531.2 L840.6,530.7 L839.4,533.7 L836.8,536.3 L833.4,538.0 L831.4,539.3 L828.7,537.5Z M822.4,547.0 L826.0,545.6 L830.5,543.8 L833.4,543.9 L836.0,543.1 L836.8,545.6 L836.4,549.0 L838.1,552.4 L840.2,552.4 L839.4,549.0 L839.8,544.8 L842.8,541.4 L845.3,538.8 L847.0,536.3 L845.3,533.7 L843.6,533.3 L841.9,535.4 L841.1,538.8 L839.4,541.4 L837.7,543.1 M847.0,536.3 L847.9,533.3 L849.6,529.5 L852.5,525.6 L857.2,529.9 L858.9,531.2 L861.5,528.6 L860.6,532.0 L858.1,537.1 L856.4,541.4 L854.7,547.3 L855.5,549.9 L858.1,549.0 L860.6,543.9 L864.9,537.1 L869.1,528.6 L870.0,529.5 L870.0,536.3 L869.1,542.2 L870.8,542.2 L873.4,539.7 L875.1,535.4 L875.9,532.0 L876.8,530.3 L875.1,527.8 L877.6,523.5 L881.9,524.4 L885.3,526.1 L885.3,529.5 L883.6,532.0 L881.9,534.6 L883.6,535.4 L884.4,540.5 L883.6,546.5 L885.3,540.5 L887.0,534.6 L888.7,531.2 L891.2,529.9 L893.8,531.2 L896.3,533.7 L898.9,535.4 L901.4,535.4 L903.1,538.0 L906.5,540.5 L908.7,543.9 L907.4,547.3 L904.0,549.0 L901.4,550.7 L898.0,550.7 L892.9,549.9 L889.5,549.4 L891.2,550.7 L896.3,552.4 L899.7,553.3 L897.2,555.8 L898.0,560.1 L900.6,559.2 L903.1,558.4 L904.8,560.1 L905.7,562.6 L906.5,565.2 L908.2,566.0 L909.1,562.6 L908.2,559.2 L911.6,560.1 L914.0,561.0 M858.1,524.4 L860.6,522.2 L864.0,523.5 L865.3,525.6 L863.2,526.9 L859.8,526.9Z M811.3,578.8 L815.5,578.1 L819.0,577.4 L820.4,575.3 L819.7,573.2 L821.8,571.8 L824.6,572.5 L826.7,576.0 L829.5,580.9 L831.6,585.8 L835.8,586.8 L839.3,587.9 L842.8,585.8 L844.9,583.7 L850.0,586.5 L853.8,589.0 L856.4,583.9 L860.6,580.5 L862.3,574.5 L862.3,566.0 L864.0,561.8 L868.3,555.8 L874.2,554.5 L876.8,553.3 L879.3,551.6 L881.0,552.0 L882.7,555.0 L887.8,559.2 L892.1,562.6 L893.8,566.9 L891.2,572.8 L889.5,576.2 L891.2,577.9 L892.9,574.5 L894.6,571.1 L899.7,569.4 L901.4,568.6 L904.0,564.3 L906.0,565.0 M889.5,579.6 L886.1,581.3 L888.7,582.2 L887.8,587.3 L886.0,590.0 L887.0,596.0 L889.0,599.5 L893.0,602.0 L896.0,606.0 L900.0,611.0 L899.0,616.0 L895.0,622.0 L891.5,629.0 L893.0,634.0 L896.0,641.0 L899.0,647.0 L900.0,651.0 L901.0,655.0 L899.0,658.0 L898.0,662.0 L897.0,667.0 L898.0,669.0 L896.5,671.0 L897.0,674.0 L900.0,676.0 L901.0,678.0 L900.0,682.0 L901.0,684.0 L904.0,687.0 L905.0,691.0 L903.0,696.0 L901.0,699.0 L903.0,702.0 L908.0,706.0 L911.5,710.0 L912.0,716.0 L911.0,723.0 L906.0,729.0 L900.0,737.0 L894.0,745.0 L887.0,753.0 L880.0,760.0 M816.2,578.8 L819.0,583.0 L823.2,587.2 L827.4,591.4 L833.0,593.5 L836.5,596.3 L839.0,601.0 L842.0,605.0 L841.0,610.0 L841.0,616.0 L843.0,619.0 L842.5,623.0 L844.0,628.0 L845.5,631.0 L845.0,635.0 L843.0,640.0 L843.0,645.0 L845.0,648.0 L847.0,654.0 M811.3,578.8 L812.0,581.6 L812.7,584.4 L811.3,588.6 L809.9,590.0 L809.2,594.9 L805.0,592.8 L799.4,590.7 L794.5,590.0 L792.4,591.4 L793.1,599.1 L791.0,604.0 L785.4,601.2 L782.0,604.0 L780.0,608.0 L778.0,614.0 L775.0,617.0 L776.0,620.0 L777.0,624.0 L774.0,630.0 L770.0,636.0 L768.0,640.0 L768.0,644.0 L764.0,646.0 L760.0,647.5 L761.0,655.0 L760.0,665.0 L758.0,670.0 L756.0,675.0 L753.0,680.0 L756.0,683.0 L756.5,689.0 L754.0,692.0 L748.0,692.0 L744.0,694.0 L741.0,698.0 L739.0,702.0 L737.0,707.0 L739.0,712.0 L738.5,718.0 L739.5,723.0 L739.5,730.0 L738.5,738.0 L742.0,741.0 L745.0,744.0 L745.0,748.0 L741.0,751.0 L739.5,754.0 L741.0,760.0 L742.0,765.0 M822.4,547.0 L823.3,550.1 L826.0,552.8 L826.9,557.3 L824.2,554.6 L821.5,552.8 L819.7,554.6 L817.0,555.5 L815.2,554.6 L814.3,557.3 L814.8,563.6 L816.1,565.4 L813.4,567.2 L811.6,569.0 L812.1,563.6 L812.1,556.4 L811.2,554.6 L808.0,554.8 L805.6,555.5 L803.4,558.5 L801.2,560.0 L799.6,562.5 L798.5,565.0 L796.8,567.0 L795.7,569.2 L797.9,570.9 L799.6,570.3 L797.0,571.5 L793.0,568.1 L791.9,570.9 L792.4,574.7 L790.8,575.8 L788.6,576.4 L787.5,579.1 L786.9,583.5 L784.7,585.7 L781.4,587.4 L778.7,588.5 L777.6,590.1 L778.1,592.3 L781.4,592.3 L787.5,592.9 L783.6,594.0 L779.8,594.5 L777.0,594.5 L775.4,596.7 L773.6,598.5 L770.2,599.6 L767.2,601.9 L767.6,603.7 L769.5,604.5 L768.7,605.2 L765.4,604.1 L763.5,605.6 L762.4,608.2 L762.4,611.2 L764.2,611.2 L766.5,609.7 L767.2,610.5 L766.5,611.2 L766.1,613.5 L764.2,613.9 L761.6,615.7 L760.0,620.0 L762.0,622.0 L768.0,622.0 L766.0,616.0 L763.0,615.0 L760.0,620.0 L762.0,622.0 L768.0,622.0 L762.0,622.0 L758.0,623.0 L755.0,625.0 L753.0,628.0 L752.0,631.0 L754.0,632.0 L751.0,633.0 L748.0,636.0 L747.0,640.0 L747.5,644.0 L750.0,645.0 L755.0,643.5 L752.0,646.0 L747.0,647.0 L744.0,649.0 L742.0,646.0 L741.0,649.0 L742.0,652.0 L744.0,651.0 L746.0,650.0 L743.0,653.0 L741.0,657.0 L739.0,662.0 L738.5,667.0 L740.0,669.0 L743.0,668.0 L745.5,664.5 L744.0,667.0 L741.0,669.0 L737.0,668.0 L734.0,670.0 L732.0,672.0 L729.0,673.0 L726.0,674.0 L727.0,675.0 L730.0,675.0 L733.0,676.0 L730.0,678.0 L727.0,681.0 L725.0,683.0 L721.0,688.0 L718.0,692.0 L715.5,696.0 L715.0,699.0 L717.0,701.0 L718.0,704.0 L715.0,701.0 L712.0,702.0 L711.0,703.0 L710.0,701.0 L708.0,700.0 L707.0,698.0 L705.0,698.0 L703.5,699.0 L706.0,700.0 L705.0,703.0 L706.0,706.0 L703.0,707.0 L702.0,710.0 L703.0,712.0 L706.0,716.0 L702.0,711.0 L699.0,711.0 L695.0,712.0 L692.0,714.0 L690.0,717.0 L689.5,718.5 L693.0,719.0 L697.0,719.0 L701.0,718.0 L698.0,720.0 L697.0,722.0 L694.0,721.0 L690.0,720.0 L686.0,721.0 L684.0,723.0 L685.0,725.0 L688.0,724.0 L685.0,726.0 L680.0,726.0 L677.0,728.0 L675.0,730.0 L675.0,733.0 L673.0,735.0 L673.0,738.0 L675.0,740.0 L675.0,743.0 L673.0,745.0 L673.0,749.0 L672.0,750.0 L674.0,752.0 L675.0,756.0 L675.0,760.0 L674.0,763.0 L674.5,766.0 L676.0,768.0 L675.0,772.0 L676.0,776.0 L675.0,779.0 L676.0,781.0 L675.0,784.0 L677.0,785.0 L681.0,782.0 L686.5,778.0 L682.0,782.0 L682.0,787.0 L685.0,788.0 L683.0,789.5 L680.0,788.0 L678.5,791.0 L679.0,795.0 L683.0,799.0 L687.0,801.0 L689.0,803.5 L693.0,804.5 L698.0,804.0 L703.0,802.0 L708.0,798.0 L711.3,793.0 L713.4,790.9 L712.7,790.2 L715.5,789.2 L716.6,787.8 L715.5,786.0 L716.6,786.7 L718.3,788.5 L720.0,787.8 L721.8,785.3 L723.2,781.8 L724.3,779.0 L723.2,779.7 L722.9,778.7 L723.9,777.6 L724.4,775.5 L724.4,774.3 L724.8,777.3 L725.0,780.0 L726.0,783.6 L727.4,785.0 L730.2,785.7 L731.6,786.7 L732.7,789.2 L733.7,789.5 L734.4,788.1 L735.1,784.3 L735.1,780.8 L734.4,777.3 L735.1,776.2 L736.5,773.0 L737.6,771.6 L739.7,771.3 L740.7,769.6 L741.8,767.1 L742.0,765.0 M729.5,786.7 L729.5,789.5 L730.2,793.0 L730.6,798.3 L732.3,799.7 L734.0,805.0 L737.0,812.0 L740.0,819.0 L744.0,826.0 L745.5,829.5 L743.0,833.0 L742.0,836.0 L743.0,841.0 L743.0,845.0 L745.0,848.0 L750.0,849.0 L755.0,848.0 L758.0,846.0 L757.0,842.0 L760.0,838.0 L765.0,836.0 L772.0,836.0 L774.0,832.0 L776.0,826.0 L778.0,820.0 L779.0,814.0 L779.0,808.0 L780.0,800.0 L781.0,796.0 L776.0,794.0 L781.0,794.0 L785.0,791.0 L790.0,789.0 L794.0,787.0 L795.0,786.0 L796.0,782.0 L792.0,782.5 L792.0,781.0 L795.0,781.0 L797.0,778.0 L800.5,774.0 L800.0,771.0 L797.0,767.0 L794.0,764.0 L790.0,760.0 L785.0,758.0 L784.5,754.0 L784.0,748.0 L784.0,742.0 L785.0,738.0 L786.0,734.0 L787.0,728.0 L786.0,723.0 L790.0,722.0 L792.0,720.0 L791.0,716.0 L795.0,713.0 L796.0,710.0 L800.0,708.0 L804.0,704.0 L807.0,703.0 L811.0,700.0 L816.0,696.0 L817.5,692.0 L820.0,688.0 L823.0,683.0 L821.0,679.0 L820.0,676.0 L821.0,674.0 L823.0,670.0 L823.0,666.0 L824.0,663.0 L828.0,660.0 L830.0,658.0 L831.5,653.5 L834.5,653.5 L838.0,656.0 L842.0,654.5 L847.0,654.0 L851.0,654.0 L851.5,656.0 L856.0,659.0 L858.0,662.0 L857.5,668.0 L858.0,672.0 L857.0,674.0 L854.0,674.0 L851.0,676.0 L849.0,680.0 L845.5,685.5 L841.0,692.0 L836.0,697.0 L832.0,701.0 L830.0,705.0 L828.0,708.0 L824.0,709.0 L820.0,708.0 L823.0,711.0 L822.0,714.0 L820.0,718.0 L820.0,723.0 L822.0,728.0 L821.0,733.0 L823.0,738.0 L823.5,744.0 L822.5,750.0 L822.0,758.0 L821.0,760.0 L824.0,760.0 L828.0,762.0 L831.0,763.0 L834.0,766.0 L837.0,768.0 L840.0,770.0 L846.0,769.0 L850.0,768.0 L856.0,766.0 L863.0,762.0 L869.0,760.0 L874.0,760.0 L879.0,760.5 L884.0,759.0 L887.0,758.0 L887.0,762.0 L890.0,765.0 L894.0,766.0 L898.0,767.0 L900.0,770.0 L901.0,771.0 M674.0,734.0 L680.0,735.0 L685.0,737.0 L689.5,735.0 M673.0,749.0 L680.0,749.0 L688.0,748.0 L693.0,749.0 L696.0,748.0 L696.0,744.0 M696.0,748.0 L697.0,748.0 L692.0,750.0 L692.0,752.0 M675.0,760.0 L679.0,757.0 M678.0,768.0 L683.0,765.0 L687.0,762.0 L691.5,760.5 M688.0,763.0 L688.0,767.0 M720.0,703.0 L725.0,704.0 L726.0,702.0 L730.0,697.0 L732.0,693.0 L730.0,692.0 L728.0,694.0 L727.0,696.0 L724.0,700.0 L720.5,702.5Z M813.0,549.5 L815.0,547.8 L817.0,549.5 L815.0,551.2Z M724.0,809.5 L720.0,812.0 L717.0,815.0 L714.0,818.0 L710.0,819.5 L706.0,821.0 L704.0,824.0 L704.0,827.0 L702.0,829.0 L702.1,837.5 L702.1,844.6 L706.3,847.5 L707.1,850.8 L706.3,853.3 L704.2,853.3 L703.8,855.8 L704.2,858.3 L707.5,858.3 L709.2,861.3 L708.3,863.3 L706.7,864.6 L707.5,865.8 L709.2,866.7 L709.6,870.0 L709.2,871.7 L706.7,871.7 L705.4,873.3 L705.0,876.7 L704.2,878.3 L702.5,877.5 L701.7,875.0 L700.0,874.2 L695.0,874.2 L693.3,875.0 L692.5,878.3 L693.3,881.7 L693.3,886.7 L692.5,892.0 M707.5,855.0 L710.8,856.7 L713.3,857.5 L716.7,856.3 L717.5,856.7 L718.3,858.8 L717.8,860.5 L717.5,862.5 L720.0,862.5 L723.3,863.8 L725.8,864.6 L728.3,864.2 L729.2,862.5 L730.0,862.5 L728.8,864.6 L728.3,866.3 L726.7,867.9 L727.1,870.0 L729.2,869.2 L732.5,868.8 L735.4,866.7 L738.3,865.4 L740.8,863.3 L742.5,862.1 L745.8,863.3 L747.9,865.4 L750.0,866.3 L753.3,869.7 L756.8,872.3 L759.0,871.5 L765.0,868.5 L776.7,864.0 L780.0,860.5 L785.6,858.2 L793.5,856.6 L796.9,858.8 L798.6,859.9 L796.9,860.5 L798.0,863.3 L801.4,864.4 L805.9,863.3 L808.7,860.5 L809.8,854.9 L813.7,854.3 L815.0,854.0 L818.0,850.0 L820.0,846.0 L819.0,840.0 L818.5,832.0 L819.0,825.0 L822.0,818.0 L825.0,812.0 L833.0,810.0 L837.0,816.0 L841.0,821.0 L845.0,822.0 L849.0,817.0 L849.0,808.0 L849.5,804.0 L849.0,800.0 L845.0,799.0 L843.0,794.0 L842.0,790.0 L841.0,784.0 L847.0,780.0 L853.0,778.5 L859.4,777.2 L869.0,778.4 L881.0,780.2 L882.2,778.4 L882.2,774.8 L887.0,772.4 L891.8,771.2 L897.8,771.2 L901.4,771.8 L905.0,772.0 M756.8,872.3 L760.3,873.3 L759.0,879.0 L758.0,885.5 L759.0,892.0 M724.0,809.5 L723.0,815.0 L722.0,820.0 L721.0,827.0 L722.0,831.0 L726.0,830.5 L727.1,832.5 L725.0,834.6 L723.3,833.8 L721.7,835.0 L720.0,840.4 L718.3,840.8 L717.9,842.9 L715.4,845.8 L715.0,849.6 L714.2,852.9 L714.6,853.8 M707.0,821.0 L712.0,822.0 L711.0,826.0 L708.0,829.0 L706.0,826.0Z M720.0,845.0 L721.7,844.2 L724.6,844.6 L725.8,847.5 L726.7,850.8 L727.1,853.3 L725.0,853.3 L722.5,853.3 L720.4,852.1 L719.2,850.8 L718.3,847.5 L719.2,845.8Z M727.9,842.5 L730.8,842.1 L732.5,839.6 L734.6,839.2 L735.4,842.1 L736.3,839.2 L738.3,837.1 L740.8,836.3 L742.1,835.8 L742.1,840.4 L742.5,844.6 L740.0,844.6 L739.2,846.7 L740.0,849.2 L738.3,850.8 L737.5,852.5 L736.7,853.3 L734.6,853.3 L734.2,851.3 L731.7,850.8 L730.0,849.6 L729.2,846.7 L728.3,843.8Z M728.3,855.0 L729.2,857.9 L732.5,860.0 L735.4,859.2 L736.7,857.1 L739.2,855.0 L741.7,855.0 L737.5,855.8 L735.4,857.1 L732.5,856.3 L730.0,855.0Z M720.8,855.0 L723.3,856.3 L725.4,858.3 L725.8,855.8 M716.7,855.4 L718.3,858.8 M724.0,838.3 L724.5,840.0 L725.0,841.7 M727.0,816.5 L729.5,816.0 L729.0,818.0 L727.0,818.0Z M747.5,860.0 L750.0,859.5 L752.5,862.0 L752.0,865.8 L749.0,864.5 L747.5,862.0Z M670.8,892.0 L670.8,886.7 L672.5,882.5 L674.2,880.0 L677.5,878.3 L681.7,877.5 L685.8,877.5 L690.0,878.3 L692.5,880.0 L693.3,881.7 M675.0,892.0 L675.8,886.7 L676.7,883.3 L679.2,881.7 L682.5,880.0 M679.2,887.5 L680.0,892.0 M808.0,765.0 L811.0,763.0 L813.0,765.0 L811.0,768.0 L809.0,768.0Z M823.0,766.5 L825.5,766.5 L825.0,768.0 L823.0,768.0Z M829.0,789.0 L834.0,787.0 L836.0,790.0 L835.0,793.0 L839.0,794.0 L839.0,797.0 L835.0,799.0 L831.0,802.0 L829.0,805.0 L827.0,803.0 L827.0,798.0 L831.0,796.0 L832.0,792.0Z M882.2,780.2 L881.0,783.2 L879.8,788.0 L880.4,794.0 L879.8,798.8 L878.6,803.6 L877.4,808.4 L876.2,812.0 L879.8,815.6 L879.8,824.0 L882.2,828.8 L883.4,836.0 L888.2,837.2 L893.0,838.4 L895.4,842.0 L900.2,840.8 L905.0,842.0 L907.4,846.8 L908.6,854.0 L909.8,860.0 L911.6,866.0 L914.0,872.0 M848.6,807.2 L855.8,804.8 L861.8,807.2 L866.6,812.0 L871.4,812.0 L876.2,812.0 M819.0,836.0 L825.0,833.0 L835.0,831.5 L845.0,833.0 L853.4,831.8 L855.8,834.8 L863.0,838.4 L869.0,843.2 L873.8,842.0 L878.6,840.8 L883.4,836.0 M869.0,843.2 L869.0,849.2 L866.6,852.8 L863.0,855.2 L860.6,863.6 L859.4,866.0 L854.6,868.4 L849.8,870.8 L845.0,870.8 L840.0,868.0 L837.0,865.0 L834.0,863.0 L835.0,858.0 L833.0,853.0 L825.0,852.0 L820.0,853.0 L820.0,846.0 M807.0,863.0 L825.0,863.5 L835.0,863.5 M872.6,789.2 L878.6,788.0 L879.8,794.0 L878.6,800.0 L876.2,798.8 L873.8,792.8Z M803.0,805.5 L799.0,808.0 L795.0,809.0 L793.0,812.0 L792.5,818.0 L793.5,823.0 L796.0,821.0 L799.0,816.0 L799.0,811.0 L801.0,808.0Z M782.0,816.0 L778.0,825.0 L777.0,834.0 L780.0,827.0 L783.5,817.0Z M762.0,850.0 L765.0,851.0 L765.0,853.0 L762.0,853.0Z M859.6,865.0 L861.6,865.0 L861.6,867.0 L859.6,867.0Z M780.3,576.9 L782.5,578.6 L786.4,574.2 L790.2,575.3 L792.4,574.7 L791.9,570.3 L793.5,567.6 L791.3,565.9 L789.1,564.3 L786.9,564.3 L784.2,566.5 L785.3,568.7 L782.5,569.2 L782.0,574.2Z M791.9,563.7 L794.6,559.3 L797.4,557.7 L799.0,553.8 L800.7,552.2 L804.5,552.4 L805.6,554.1 L803.4,557.7 L801.2,558.8 L799.6,561.5 L799.0,564.3 L797.4,565.9 L794.1,565.4Z M773.2,588.5 L774.3,584.6 L775.9,582.4 L777.6,583.0 L778.7,585.7 L778.7,589.0 L777.6,590.7 L775.4,591.8 L773.2,592.9 L770.4,594.0 L767.1,595.1 L763.8,596.2 L760.5,597.8 L758.3,599.5 L760.5,597.3 L763.3,594.5 L764.9,593.4 L766.6,591.8 L768.2,589.6 L769.3,587.4 M758.3,586.3 L760.0,583.5 L761.6,583.5 L763.3,581.3 L764.9,579.1 L766.6,580.2 L767.7,583.5 L768.2,586.8 L767.1,588.5 L764.4,589.0 L761.6,587.9 L759.4,587.4Z M768.8,579.1 L771.5,574.7 L773.2,571.4 L774.5,572.0 L774.3,574.7 L772.1,578.6 L772.6,583.5 L772.6,586.8 L771.5,589.6 L771.0,589.0 L769.9,586.8 L769.3,583.5Z M744.4,608.2 L745.5,603.7 L748.1,600.7 L751.1,597.4 L753.7,597.2 L756.7,597.7 L759.0,594.7 L761.2,593.2 L764.2,592.9 L766.5,591.0 L767.6,588.7 M744.4,608.2 L747.4,604.1 L750.0,602.2 L753.0,601.1 L755.6,598.9 L757.5,598.9 L760.5,598.9 L763.5,596.2 L767.2,595.1 L768.7,595.9 L771.7,594.0 L774.0,591.4 L777.4,588.7 L782.2,586.1 M806.2,558.8 L806.7,563.0 L806.7,568.7 L806.0,563.0Z M811.1,556.0 L811.3,562.0 L811.1,569.8 L810.6,562.0Z M812.2,556.0 L812.8,563.2 M800.1,552.2 L801.8,547.2 L803.4,550.5 M805.6,546.1 L807.5,548.5 L809.5,551.0 M811.8,550.0 L813.0,548.8 L814.2,550.0 L813.0,551.2Z M775.1,596.2 L775.5,600.7 L776.6,601.9 L775.9,606.4 L774.7,603.7 L775.1,600.7 M766.9,614.2 L769.1,615.4 L770.6,615.0 L769.1,617.2 L769.5,619.9 M600.5,794.0 L592.7,794.6 L587.1,795.1 L583.8,794.6 L582.6,796.8 L583.2,800.7 L580.4,802.4 L579.3,805.8 L581.5,807.4 L577.0,809.1 L575.9,813.6 L578.2,817.0 L577.0,820.3 L574.8,824.8 L578.2,825.9 L581.5,825.9 L579.3,830.4 L579.3,834.9 L581.5,837.1 L584.9,836.0 L586.0,839.4 L584.9,842.7 L586.0,847.2 L583.8,851.7 L582.6,853.9 L581.5,856.1 L583.8,858.4 L588.2,857.3 L593.8,856.1 L597.2,855.0 L600.5,855.0 L597.2,857.3 L596.1,860.6 L597.2,865.1 L600.5,868.5 L601.7,871.8 L600.5,876.3 L601.7,879.7 L597.2,879.7 L592.7,879.7 L588.2,878.5 L587.1,880.8 L589.4,884.1 L587.1,887.5 L590.5,892.0 M600.5,794.0 L600.5,797.9 L597.2,801.3 L592.7,805.8 L591.6,809.1 L591.6,812.5 L597.2,810.2 L602.8,809.7 L609.5,810.2 L612.3,813.6 L610.6,818.1 L608.4,823.7 L606.1,828.2 L602.8,830.4 L598.3,832.1 L603.9,832.6 L602.8,836.0 L598.3,837.1 L594.4,837.1 L597.2,838.2 L602.8,837.7 L608.4,839.4 L611.7,842.7 L614.0,847.2 L615.1,851.7 L616.2,856.1 L619.6,859.5 L624.1,862.9 L627.4,868.5 L628.5,874.1 L623.0,874.1 L627.4,875.2 L629.7,877.4 L631.3,881.9 L629.7,886.4 L633.0,885.3 L638.6,885.3 L642.0,887.5 L644.2,892.0 M586.0,865.0 L588.5,864.5 L589.4,867.0 L587.0,868.5Z M536.7,866.2 L541.2,865.1 L546.8,866.2 L551.3,864.0 L554.6,862.9 L552.4,860.6 L550.2,858.4 L552.4,856.1 L554.6,851.7 L560.2,850.6 L562.5,848.9 L565.8,850.6 L571.4,850.6 L574.8,852.8 L575.9,858.4 L578.2,860.6 L577.0,865.1 L573.7,867.3 L572.6,871.8 L573.7,880.8 L573.7,892.0 M554.6,862.9 L556.9,866.2 L561.4,867.3 L564.7,864.0 L568.1,865.1 L571.4,868.5 L572.6,869.6 M536.7,866.2 L535.6,869.6 L539.0,871.8 L537.8,876.3 L539.0,879.7 L546.8,881.9 L543.4,885.3 L541.2,889.7 L541.0,892.0 M564.7,802.4 L568.1,799.0 L572.0,796.8 L571.4,801.3 L569.2,804.6 L565.8,808.0 L564.7,805.8Z M568.1,813.6 L571.4,811.4 L573.7,814.7 L577.0,819.2 L574.8,821.4 L571.4,818.1 L569.2,817.0Z M561.5,811.5 L563.5,811.5 L563.5,812.8 L561.5,812.8Z M561.5,816.0 L562.5,816.0 L562.5,820.0 L561.5,820.0Z M571.5,828.0 L575.0,827.0 L576.5,830.0 L574.0,833.0 L571.5,832.0Z M570.0,840.5 L573.5,839.0 L575.0,842.0 L572.0,844.0 L570.0,843.0Z M577.5,836.0 L579.0,840.0 L578.0,847.0 L577.0,844.0Z M580.0,835.0 L582.0,836.0 L581.0,842.0 L579.5,840.0Z M601.2,781.6 L604.0,783.0 L606.8,782.6 L603.3,783.7 L599.8,785.8 L598.4,787.9 L600.5,789.3 L602.6,787.9 M620.8,755.0 L618.7,757.1 L618.0,759.9 L615.9,759.2 L614.5,760.6 L616.6,762.0 L613.8,764.8 L615.9,766.9 L617.3,767.6 L616.6,771.8 L618.7,767.6 L619.4,762.7 L618.7,760.6 L620.1,757.8 L621.5,755.7Z M561.3,730.5 L563.4,727.0 L565.5,726.3 L567.6,727.7 L569.7,726.3 L570.4,728.4 L568.3,730.5 L566.9,732.6 L564.1,731.9Z M566.2,734.7 L569.0,736.8 M565.5,739.6 L568.3,743.8 M840.7,868.4 L841.9,872.9 L844.1,881.9 L845.2,892.0 M805.5,765.5 L807.0,764.5 L808.0,766.0 L806.5,767.0Z M823.5,766.5 L825.0,766.0 L825.5,767.5 L824.0,768.0Z M827.5,762.5 L829.0,762.0 L829.5,764.0 L828.0,764.5Z M829.5,766.0 L832.0,766.5 L834.0,768.5 L832.0,769.0Z M836.0,770.5 L838.5,772.0 M735.0,657.8 L736.0,656.8 L737.0,657.8 L736.0,658.8Z M700.0,705.0 L701.0,704.0 L702.2,705.0 L701.0,706.0Z" fill="none" stroke="#000" stroke-width="1.1" stroke-linejoin="round" stroke-linecap="round"/><g stroke="#000" stroke-width="1.7" stroke-linecap="butt" fill="none"><path d="M480.8,658 L483.6,664.9 L480,675.9 M488.5,658 L488.5,664.9 M495.7,658 L493.5,664.9 L497,675.9 M483.6,664.9 L493.5,664.9"/></g><rect x="479.4" y="675.2" width="6.4" height="2.2" fill="#000"/><rect x="491.3" y="675.2" width="6.3" height="2.2" fill="#000"/></g>
<rect x="318.5" y="321.5" width="594" height="569" fill="none" stroke="#000" stroke-width="1.1"/>
<text transform="translate(331.26,311.60) scale(0.955,1)" font-size="20.32" fill="#000">3</text><text transform="translate(343.20,311.60) scale(0.995,1)" font-size="20.32" fill="#000">0</text><text transform="translate(355.51,311.60) scale(1.041,1)" font-size="20.32" fill="#000">°</text><text transform="translate(365.08,311.60) scale(0.930,1)" font-size="20.32" fill="#000">W</text>
<text transform="translate(331.26,909.60) scale(0.955,1)" font-size="20.32" fill="#000">3</text><text transform="translate(343.20,909.60) scale(0.995,1)" font-size="20.32" fill="#000">0</text><text transform="translate(355.51,909.60) scale(1.041,1)" font-size="20.32" fill="#000">°</text><text transform="translate(365.08,909.60) scale(0.930,1)" font-size="20.32" fill="#000">W</text>
<text transform="translate(421.02,311.60) scale(0.960,1)" font-size="20.32" fill="#000">2</text><text transform="translate(433.26,311.60) scale(0.995,1)" font-size="20.32" fill="#000">0</text><text transform="translate(445.57,311.60) scale(1.041,1)" font-size="20.32" fill="#000">°</text><text transform="translate(455.14,311.60) scale(0.930,1)" font-size="20.32" fill="#000">W</text>
<text transform="translate(421.02,909.60) scale(0.960,1)" font-size="20.32" fill="#000">2</text><text transform="translate(433.26,909.60) scale(0.995,1)" font-size="20.32" fill="#000">0</text><text transform="translate(445.57,909.60) scale(1.041,1)" font-size="20.32" fill="#000">°</text><text transform="translate(455.14,909.60) scale(0.930,1)" font-size="20.32" fill="#000">W</text>
<text transform="translate(511.43,311.60) scale(0.950,1)" font-size="20.32" fill="#000">1</text><text transform="translate(523.46,311.60) scale(0.995,1)" font-size="20.32" fill="#000">0</text><text transform="translate(535.78,311.60) scale(1.041,1)" font-size="20.32" fill="#000">°</text><text transform="translate(545.35,311.60) scale(0.930,1)" font-size="20.32" fill="#000">W</text>
<text transform="translate(511.43,909.60) scale(0.950,1)" font-size="20.32" fill="#000">1</text><text transform="translate(523.46,909.60) scale(0.995,1)" font-size="20.32" fill="#000">0</text><text transform="translate(535.78,909.60) scale(1.041,1)" font-size="20.32" fill="#000">°</text><text transform="translate(545.35,909.60) scale(0.930,1)" font-size="20.32" fill="#000">W</text>
<text transform="translate(618.31,311.60) scale(0.995,1)" font-size="20.32" fill="#000">0</text><text transform="translate(630.62,311.60) scale(1.041,1)" font-size="20.32" fill="#000">°</text>
<text transform="translate(618.31,909.60) scale(0.995,1)" font-size="20.32" fill="#000">0</text><text transform="translate(630.62,909.60) scale(1.041,1)" font-size="20.32" fill="#000">°</text>
<text transform="translate(696.53,311.60) scale(0.950,1)" font-size="20.32" fill="#000">1</text><text transform="translate(708.56,311.60) scale(0.995,1)" font-size="20.32" fill="#000">0</text><text transform="translate(720.88,311.60) scale(1.041,1)" font-size="20.32" fill="#000">°</text><text transform="translate(730.40,311.60) scale(0.817,1)" font-size="20.32" fill="#000">E</text>
<text transform="translate(696.53,909.60) scale(0.950,1)" font-size="20.32" fill="#000">1</text><text transform="translate(708.56,909.60) scale(0.995,1)" font-size="20.32" fill="#000">0</text><text transform="translate(720.88,909.60) scale(1.041,1)" font-size="20.32" fill="#000">°</text><text transform="translate(730.40,909.60) scale(0.817,1)" font-size="20.32" fill="#000">E</text>
<text transform="translate(787.02,311.60) scale(0.960,1)" font-size="20.32" fill="#000">2</text><text transform="translate(799.26,311.60) scale(0.995,1)" font-size="20.32" fill="#000">0</text><text transform="translate(811.57,311.60) scale(1.041,1)" font-size="20.32" fill="#000">°</text><text transform="translate(821.07,311.60) scale(0.820,1)" font-size="20.32" fill="#000">E</text>
<text transform="translate(787.02,909.60) scale(0.960,1)" font-size="20.32" fill="#000">2</text><text transform="translate(799.26,909.60) scale(0.995,1)" font-size="20.32" fill="#000">0</text><text transform="translate(811.57,909.60) scale(1.041,1)" font-size="20.32" fill="#000">°</text><text transform="translate(821.07,909.60) scale(0.820,1)" font-size="20.32" fill="#000">E</text>
<text transform="translate(877.26,311.60) scale(0.955,1)" font-size="20.32" fill="#000">3</text><text transform="translate(889.20,311.60) scale(0.995,1)" font-size="20.32" fill="#000">0</text><text transform="translate(901.51,311.60) scale(1.041,1)" font-size="20.32" fill="#000">°</text><text transform="translate(911.04,311.60) scale(0.817,1)" font-size="20.32" fill="#000">E</text>
<text transform="translate(877.26,909.60) scale(0.955,1)" font-size="20.32" fill="#000">3</text><text transform="translate(889.20,909.60) scale(0.995,1)" font-size="20.32" fill="#000">0</text><text transform="translate(901.51,909.60) scale(1.041,1)" font-size="20.32" fill="#000">°</text><text transform="translate(911.04,909.60) scale(0.817,1)" font-size="20.32" fill="#000">E</text>
<text transform="translate(264.78,406.75) scale(0.972,1)" font-size="20.03" fill="#000">7</text><text transform="translate(276.95,406.75) scale(0.937,1)" font-size="20.03" fill="#000">5</text><text transform="translate(288.84,406.75) scale(1.041,1)" font-size="20.03" fill="#000">°</text><text transform="translate(298.05,406.75) scale(0.932,1)" font-size="20.03" fill="#000">N</text>
<text transform="translate(918.61,406.75) scale(0.972,1)" font-size="20.03" fill="#000">7</text><text transform="translate(930.78,406.75) scale(0.937,1)" font-size="20.03" fill="#000">5</text><text transform="translate(942.67,406.75) scale(1.041,1)" font-size="20.03" fill="#000">°</text><text transform="translate(951.87,406.75) scale(0.932,1)" font-size="20.03" fill="#000">N</text>
<text transform="translate(264.78,558.75) scale(0.972,1)" font-size="20.03" fill="#000">7</text><text transform="translate(276.70,558.75) scale(0.995,1)" font-size="20.03" fill="#000">0</text><text transform="translate(288.84,558.75) scale(1.041,1)" font-size="20.03" fill="#000">°</text><text transform="translate(298.05,558.75) scale(0.932,1)" font-size="20.03" fill="#000">N</text>
<text transform="translate(918.61,558.75) scale(0.972,1)" font-size="20.03" fill="#000">7</text><text transform="translate(930.53,558.75) scale(0.995,1)" font-size="20.03" fill="#000">0</text><text transform="translate(942.67,558.75) scale(1.041,1)" font-size="20.03" fill="#000">°</text><text transform="translate(951.87,558.75) scale(0.932,1)" font-size="20.03" fill="#000">N</text>
<text transform="translate(264.50,677.75) scale(1.029,1)" font-size="20.03" fill="#000">6</text><text transform="translate(276.95,677.75) scale(0.937,1)" font-size="20.03" fill="#000">5</text><text transform="translate(288.84,677.75) scale(1.041,1)" font-size="20.03" fill="#000">°</text><text transform="translate(298.05,677.75) scale(0.932,1)" font-size="20.03" fill="#000">N</text>
<text transform="translate(918.57,677.75) scale(1.029,1)" font-size="20.03" fill="#000">6</text><text transform="translate(931.02,677.75) scale(0.937,1)" font-size="20.03" fill="#000">5</text><text transform="translate(942.91,677.75) scale(1.041,1)" font-size="20.03" fill="#000">°</text><text transform="translate(952.12,677.75) scale(0.932,1)" font-size="20.03" fill="#000">N</text>
<text transform="translate(264.50,775.75) scale(1.029,1)" font-size="20.03" fill="#000">6</text><text transform="translate(276.70,775.75) scale(0.995,1)" font-size="20.03" fill="#000">0</text><text transform="translate(288.84,775.75) scale(1.041,1)" font-size="20.03" fill="#000">°</text><text transform="translate(298.05,775.75) scale(0.932,1)" font-size="20.03" fill="#000">N</text>
<text transform="translate(918.57,775.75) scale(1.029,1)" font-size="20.03" fill="#000">6</text><text transform="translate(930.77,775.75) scale(0.995,1)" font-size="20.03" fill="#000">0</text><text transform="translate(942.91,775.75) scale(1.041,1)" font-size="20.03" fill="#000">°</text><text transform="translate(952.12,775.75) scale(0.932,1)" font-size="20.03" fill="#000">N</text>
<text transform="translate(264.93,859.75) scale(0.937,1)" font-size="20.03" fill="#000">5</text><text transform="translate(276.95,859.75) scale(0.937,1)" font-size="20.03" fill="#000">5</text><text transform="translate(288.84,859.75) scale(1.041,1)" font-size="20.03" fill="#000">°</text><text transform="translate(298.05,859.75) scale(0.932,1)" font-size="20.03" fill="#000">N</text>
<text transform="translate(918.85,859.75) scale(0.937,1)" font-size="20.03" fill="#000">5</text><text transform="translate(930.87,859.75) scale(0.937,1)" font-size="20.03" fill="#000">5</text><text transform="translate(942.76,859.75) scale(1.041,1)" font-size="20.03" fill="#000">°</text><text transform="translate(951.97,859.75) scale(0.932,1)" font-size="20.03" fill="#000">N</text>
<g><path d="M15,44.5 C16.67,44.33 22.00,44.25 25.00,43.50 C28.00,42.75 30.50,41.25 33.00,40.00 C35.50,38.75 37.67,37.25 40.00,36.00 C42.33,34.75 44.67,33.33 47.00,32.50 C49.33,31.67 51.83,31.17 54.00,31.00 C56.17,30.83 57.67,31.00 60.00,31.50 C62.33,32.00 65.33,33.25 68.00,34.00 C70.67,34.75 73.17,35.58 76.00,36.00 C78.83,36.42 81.83,36.67 85.00,36.50 C88.17,36.33 91.67,35.67 95.00,35.00 C98.33,34.33 103.33,32.92 105.00,32.50 L105,41 C102.50,41.13 94.17,41.75 90.00,41.80 C85.83,41.85 83.00,41.63 80.00,41.30 C77.00,40.97 74.50,40.38 72.00,39.80 C69.50,39.22 67.33,38.27 65.00,37.80 C62.67,37.33 60.50,36.88 58.00,37.00 C55.50,37.12 52.67,37.67 50.00,38.50 C47.33,39.33 44.83,40.58 42.00,42.00 C39.17,43.42 35.83,45.67 33.00,47.00 C30.17,48.33 28.00,49.50 25.00,50.00 C22.00,50.50 16.67,50.00 15.00,50.00Z" fill="#cbff24"/><path d="M15,51 C16.67,51.33 21.67,52.25 25.00,53.00 C28.33,53.75 32.17,55.17 35.00,55.50 C37.83,55.83 39.50,55.67 42.00,55.00 C44.50,54.33 47.33,52.75 50.00,51.50 C52.67,50.25 55.50,48.75 58.00,47.50 C60.50,46.25 62.67,44.83 65.00,44.00 C67.33,43.17 69.50,42.53 72.00,42.50 C74.50,42.47 77.00,43.17 80.00,43.80 C83.00,44.43 85.83,45.77 90.00,46.30 C94.17,46.83 102.50,46.88 105.00,47.00 L105,53 C103.33,52.83 98.33,52.58 95.00,52.00 C91.67,51.42 88.17,50.08 85.00,49.50 C81.83,48.92 78.83,48.25 76.00,48.50 C73.17,48.75 70.67,49.75 68.00,51.00 C65.33,52.25 62.67,54.50 60.00,56.00 C57.33,57.50 54.50,59.00 52.00,60.00 C49.50,61.00 47.83,61.83 45.00,62.00 C42.17,62.17 38.33,61.67 35.00,61.00 C31.67,60.33 28.33,58.92 25.00,58.00 C21.67,57.08 16.67,55.92 15.00,55.50Z" fill="#cbff24"/><path d="M15,60 C16.67,60.08 21.67,60.00 25.00,60.50 C28.33,61.00 31.67,62.17 35.00,63.00 C38.33,63.83 41.67,65.17 45.00,65.50 C48.33,65.83 52.17,65.58 55.00,65.00 C57.83,64.42 59.50,63.33 62.00,62.00 C64.50,60.67 67.33,58.42 70.00,57.00 C72.67,55.58 75.50,54.25 78.00,53.50 C80.50,52.75 82.17,52.33 85.00,52.50 C87.83,52.67 91.67,53.75 95.00,54.50 C98.33,55.25 103.33,56.58 105.00,57.00 L105,60.5 C103.50,60.42 98.83,60.00 96.00,60.00 C93.17,60.00 90.67,60.00 88.00,60.50 C85.33,61.00 82.67,61.87 80.00,63.00 C77.33,64.13 74.50,66.10 72.00,67.30 C69.50,68.50 67.83,69.48 65.00,70.20 C62.17,70.92 58.33,71.63 55.00,71.60 C51.67,71.57 48.33,70.63 45.00,70.00 C41.67,69.37 38.33,68.30 35.00,67.80 C31.67,67.30 28.33,66.97 25.00,67.00 C21.67,67.03 16.67,67.83 15.00,68.00Z" fill="#cbff24"/><path d="M15,74 C15.83,73.58 17.83,72.20 20.00,71.50 C22.17,70.80 25.00,69.95 28.00,69.80 C31.00,69.65 34.67,70.10 38.00,70.60 C41.33,71.10 44.67,71.98 48.00,72.80 C51.33,73.62 55.17,74.93 58.00,75.50 C60.83,76.07 62.67,76.40 65.00,76.20 C67.33,76.00 69.50,75.20 72.00,74.30 C74.50,73.40 77.33,72.15 80.00,70.80 C82.67,69.45 85.50,67.45 88.00,66.20 C90.50,64.95 92.17,63.83 95.00,63.30 C97.83,62.77 103.33,63.05 105.00,63.00 L105,69 C104.17,69.08 102.17,69.00 100.00,69.50 C97.83,70.00 94.67,70.75 92.00,72.00 C89.33,73.25 86.67,75.42 84.00,77.00 C81.33,78.58 78.67,80.50 76.00,81.50 C73.33,82.50 71.00,83.08 68.00,83.00 C65.00,82.92 61.33,81.83 58.00,81.00 C54.67,80.17 51.33,78.67 48.00,78.00 C44.67,77.33 41.33,76.92 38.00,77.00 C34.67,77.08 31.00,77.67 28.00,78.50 C25.00,79.33 22.17,80.67 20.00,82.00 C17.83,83.33 15.83,85.75 15.00,86.50Z" fill="#cbff24"/></g>
<text transform="translate(13.51,109.40) scale(0.9464,1)" font-size="22.24" fill="#231f20" font-weight="bold">Met</text>
<text transform="translate(53.34,109.40) scale(0.8361,1)" font-size="22.24" fill="#231f20" font-weight="bold">Office</text>
</svg>
</body></html>
